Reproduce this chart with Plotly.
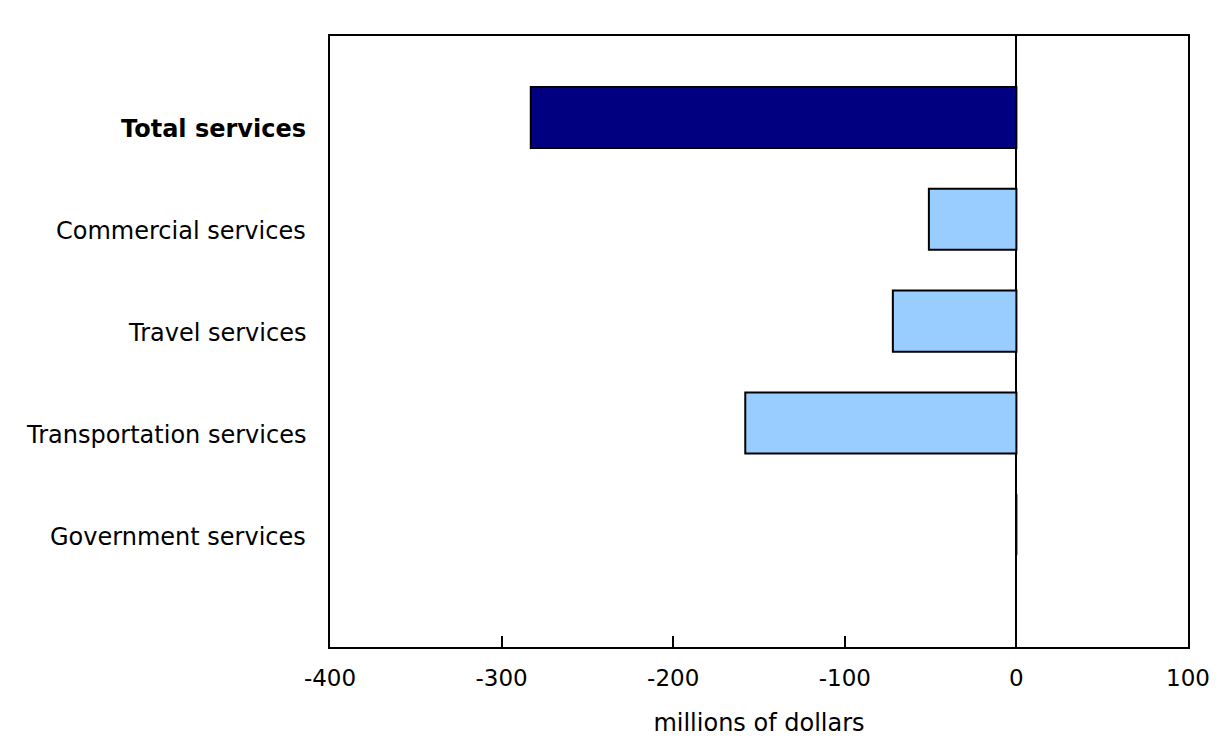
"""
plot.py — Change in services balance by category, horizontal bar chart.
"""

import plotly.graph_objects as go

# ============================================================
# Data
# ============================================================

categories = [
    "Total services",
    "Commercial services",
    "Travel services",
    "Transportation services",
    "Government services",
]
tick_labels = [
    "<b>Total services</b>",
    "Commercial services",
    "Travel services",
    "Transportation services",
    "Government services",
]
values = [-283, -51, -72, -158, 0]  # millions of dollars

x_ticks = [-400, -300, -200, -100, 0, 100]
x_tick_text = ["-400", "-300", "-200", "-100", "0", "100"]

# ============================================================
# Figure
# ============================================================

colors = ["#000080"] + ["#99CCFF"] * (len(categories) - 1)
FONT = "DejaVu Sans, Verdana, sans-serif"

fig = go.Figure()
fig.add_trace(go.Bar(
    x=values,
    y=categories,
    orientation="h",
    width=0.6,
    marker=dict(color=colors, line=dict(color="#000000", width=2)),
    hoverinfo="x+y",
))

# category labels sit a little below the bar centres in the original,
# so draw them as annotations instead of tick labels
for cat, label in zip(categories, tick_labels):
    fig.add_annotation(
        x=0, xref="paper", xanchor="right", xshift=-22,
        y=cat, yref="y", yanchor="middle", yshift=-12,
        text=label, showarrow=False,
        font=dict(family=FONT, size=24, color="#000000"),
    )

# page body has an 8px margin, so the figure is a bit smaller than the window
fig.update_layout(
    width=1223,
    height=745,
    margin=dict(l=322, r=43, t=28, b=106),
    paper_bgcolor="white",
    plot_bgcolor="white",
    showlegend=False,
    font=dict(family=FONT, size=22, color="#000000"),
    xaxis=dict(
        range=[-400, 100],
        tickvals=x_ticks,
        ticktext=x_tick_text,
        tickfont=dict(size=23),
        ticks="inside",
        ticklen=11,
        tickwidth=2,
        tickcolor="#000000",
        ticklabelstandoff=9,
        showgrid=False,
        zeroline=True,
        zerolinecolor="#000000",
        zerolinewidth=2,
        showline=True,
        linecolor="#000000",
        linewidth=2,
        mirror=True,
        title=dict(text="millions of dollars", font=dict(size=24), standoff=25),
    ),
    yaxis=dict(
        categoryorder="array",
        categoryarray=categories,
        showticklabels=False,
        range=[len(categories) + 0.2, -0.8],
        ticks="",
        showgrid=False,
        showline=True,
        linecolor="#000000",
        linewidth=2,
        mirror=True,
    ),
)

fig.write_html("out.html")
